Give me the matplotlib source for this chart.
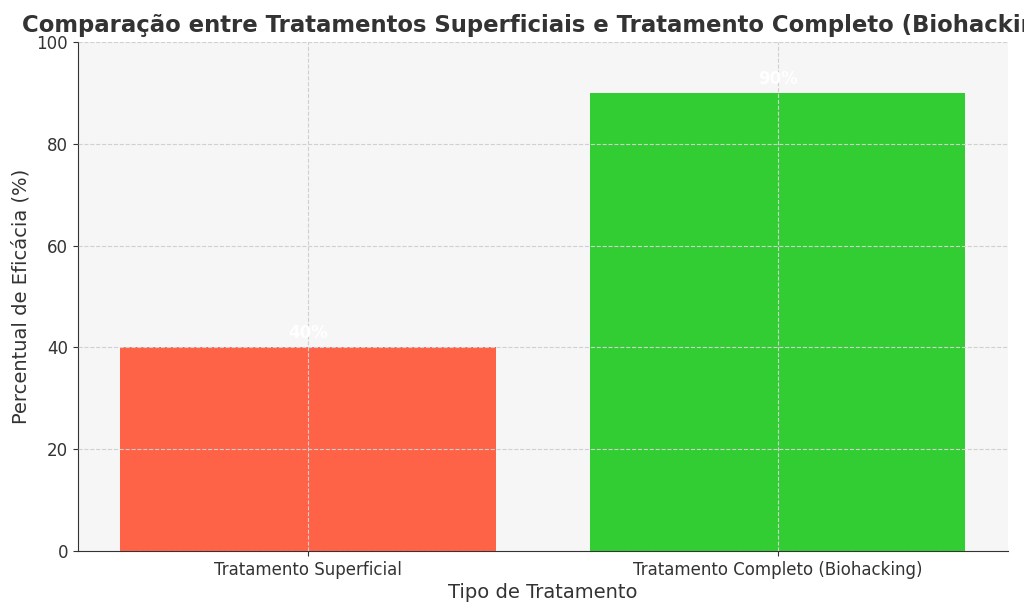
import matplotlib
matplotlib.use("Agg")
from matplotlib import pyplot as plt

# data
tratamentos = ["Tratamento Superficial", "Tratamento Completo (Biohacking)"]
eficacia = [40, 90]
cores = ["#FF6347", "#32CD32"]

fig = plt.figure(figsize=(10.24, 6.14), dpi=100)
ax = fig.add_axes([0.076, 0.1026, 0.908, 0.829])
ax.set_facecolor("#f6f6f6")

bars = ax.bar(tratamentos, eficacia, color=cores, width=0.8, zorder=2)

# value labels (white, above the bars)
for b, v in zip(bars, eficacia):
    ax.text(b.get_x() + b.get_width() / 2, v + 1, f"{v}%", ha="center", va="bottom",
            color="white", fontsize=12, fontweight="bold", zorder=3)

ax.set_ylim(0, 100)
ax.grid(True, linestyle="--", color="#d0d0d0", linewidth=0.8, zorder=0)
ax.set_axisbelow(False)

for s in ["top", "right"]:
    ax.spines[s].set_visible(False)
for s in ["left", "bottom"]:
    ax.spines[s].set_color("#333333")

ax.tick_params(colors="#333333", labelsize=12)
ax.set_xlabel("Tipo de Tratamento", fontsize=14, color="#333333", labelpad=3)
ax.set_ylabel("Percentual de Eficácia (%)", fontsize=14, color="#333333")
ax.set_title("Comparação entre Tratamentos Superficiais e Tratamento Completo (Biohacking)",
             fontsize=16.4, fontweight="bold", color="#333333", pad=7)

fig.savefig("out.png", dpi=100)
